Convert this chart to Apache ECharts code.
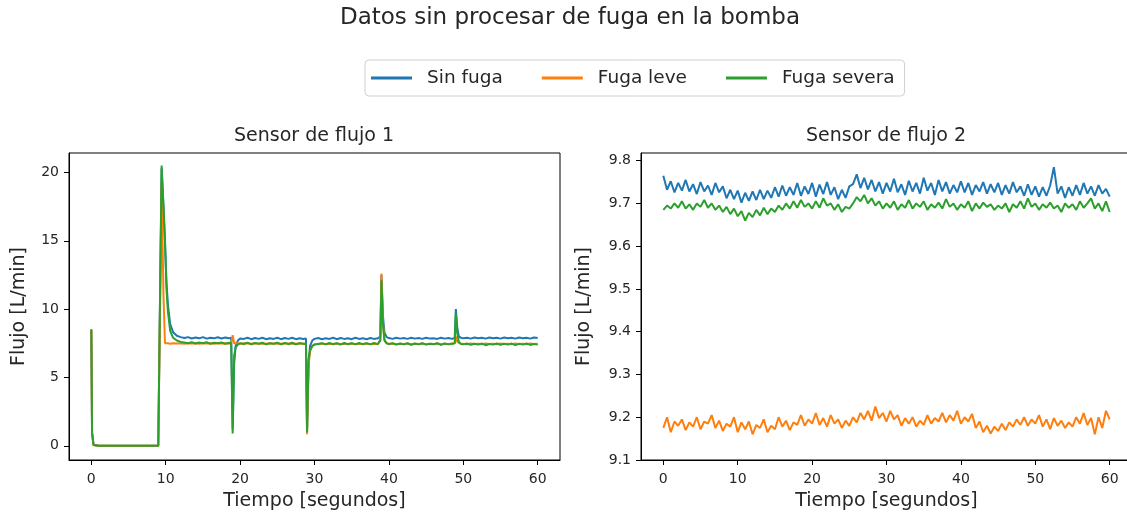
<!DOCTYPE html>
<html>
<head>
<meta charset="utf-8">
<script src="https://cdn.jsdelivr.net/npm/echarts@6/dist/echarts.min.js"></script>
<style>html,body{margin:0;padding:0;background:#fff}#c{width:1127px;height:516px}</style>
</head>
<body>
<div id="c"></div>
<script>
// ---- Data ----
const seriesNames = ['Sin fuga', 'Fuga leve', 'Fuga severa'];
const xTicks = [0, 10, 20, 30, 40, 50, 60];
const yTicksLeft = [0, 5, 10, 15, 20];
const yTicksRight = [9.1, 9.2, 9.3, 9.4, 9.5, 9.6, 9.7, 9.8];

// Sensor de flujo 1 (time in seconds)
const tL = [
  0, 0.1, 0.3, 1, 2, 3, 4, 5, 6, 7, 8, 9, 9.2,
  9.45, 9.7, 9.9, 10.1, 10.3, 10.6, 11, 11.5, 12, 12.5, 13, 13.5, 14, 14.5, 15, 15.5, 16, 16.5, 17, 17.5, 18, 18.5, 18.8,
  19.0, 19.2, 19.4, 19.7, 20, 20.5, 21, 21.5, 22, 22.5, 23, 23.5, 24, 24.5, 25, 25.5, 26, 26.5, 27, 27.5, 28, 28.5, 28.85,
  29.0, 29.2, 29.4, 29.7, 30, 30.5, 31, 31.5, 32, 32.5, 33, 33.5, 34, 34.5, 35, 35.5, 36, 36.5, 37, 37.5, 38, 38.5, 38.85,
  39.0, 39.2, 39.4, 39.7, 40, 40.5, 41, 41.5, 42, 42.5, 43, 43.5, 44, 44.5, 45, 45.5, 46, 46.5, 47, 47.5, 48, 48.5, 48.85,
  49.0, 49.2, 49.4, 49.7, 50, 50.5, 51, 51.5, 52, 52.5, 53, 53.5, 54, 54.5, 55, 55.5, 56, 56.5, 57, 57.5, 58, 58.5, 59, 59.5, 60
];
const sinFuga1 = [
  8.5, 0.9, 0.05, 0, 0, 0, 0, 0, 0, 0, 0, 0, 0,
  20.3, 17.5, 15.0, 12.0, 10.3, 8.9, 8.3, 8.05, 7.95, 7.88, 7.95, 7.85, 7.92, 7.86, 7.95, 7.84, 7.9, 7.86, 7.94, 7.85, 7.92, 7.86, 7.9,
  1.2, 6.0, 7.3, 7.7, 7.85, 7.82, 7.9, 7.8, 7.88, 7.82, 7.9, 7.8, 7.86, 7.82, 7.9, 7.8, 7.88, 7.82, 7.9, 7.8, 7.86, 7.82, 7.85,
  1.2, 6.0, 7.3, 7.7, 7.82, 7.88, 7.8, 7.86, 7.82, 7.9, 7.8, 7.88, 7.82, 7.86, 7.8, 7.9, 7.82, 7.86, 7.8, 7.88, 7.82, 7.86, 8.0,
  12.5, 9.5, 8.3, 7.95, 7.88, 7.82, 7.9, 7.84, 7.88, 7.82, 7.9, 7.84, 7.88, 7.82, 7.9, 7.84, 7.86, 7.82, 7.9, 7.84, 7.88, 7.82, 7.9,
  10.0, 8.6, 8.0, 7.9, 7.86, 7.9, 7.84, 7.92, 7.86, 7.9, 7.84, 7.92, 7.86, 7.9, 7.84, 7.92, 7.86, 7.9, 7.84, 7.92, 7.86, 7.9, 7.84, 7.92, 7.88
];
const fugaLeve1 = [
  8.5, 0.9, 0.05, 0, 0, 0, 0, 0, 0, 0, 0, 0, 0,
  19.2, 11.0, 7.5, 7.48, 7.5, 7.47, 7.5, 7.48, 7.5, 7.47, 7.5, 7.48, 7.5, 7.47, 7.5, 7.48, 7.5, 7.47, 7.5, 7.48, 7.5, 7.47, 7.5,
  8.1, 7.5, 7.48, 7.5, 7.47, 7.5, 7.48, 7.46, 7.5, 7.47, 7.49, 7.46, 7.5, 7.47, 7.49, 7.46, 7.5, 7.47, 7.49, 7.46, 7.5, 7.47, 7.45,
  0.85, 5.8, 6.9, 7.3, 7.42, 7.45, 7.48, 7.44, 7.47, 7.43, 7.48, 7.45, 7.47, 7.43, 7.48, 7.45, 7.47, 7.43, 7.48, 7.45, 7.47, 7.43, 7.8,
  12.6, 9.0, 7.8, 7.5, 7.45, 7.48, 7.43, 7.47, 7.44, 7.48, 7.43, 7.47, 7.44, 7.48, 7.43, 7.47, 7.44, 7.48, 7.43, 7.47, 7.44, 7.48, 7.5,
  8.0, 7.6, 7.48, 7.45, 7.47, 7.43, 7.48, 7.44, 7.47, 7.43, 7.48, 7.44, 7.47, 7.43, 7.48, 7.44, 7.47, 7.43, 7.48, 7.44, 7.47, 7.43, 7.48, 7.44, 7.46
];
const fugaSevera1 = [
  8.5, 1.0, 0.05, 0, 0, 0, 0, 0, 0, 0, 0, 0, 0,
  20.5, 17.5, 15.0, 11.5, 9.8, 8.4, 7.9, 7.7, 7.6, 7.55, 7.5, 7.58, 7.48, 7.55, 7.5, 7.58, 7.46, 7.54, 7.5, 7.56, 7.46, 7.54, 7.5,
  0.9, 6.6, 7.2, 7.4, 7.5, 7.45, 7.55, 7.42, 7.52, 7.46, 7.54, 7.42, 7.5, 7.46, 7.55, 7.42, 7.52, 7.45, 7.54, 7.42, 7.5, 7.46, 7.48,
  1.0, 6.3, 7.0, 7.3, 7.4, 7.45, 7.5, 7.42, 7.52, 7.44, 7.5, 7.4, 7.52, 7.44, 7.5, 7.42, 7.52, 7.44, 7.5, 7.42, 7.52, 7.44, 7.7,
  12.1, 8.9, 7.7, 7.5, 7.44, 7.5, 7.4, 7.48, 7.42, 7.5, 7.38, 7.48, 7.42, 7.5, 7.4, 7.46, 7.42, 7.5, 7.38, 7.48, 7.42, 7.46, 7.5,
  9.7, 8.2, 7.6, 7.45, 7.42, 7.48, 7.38, 7.46, 7.4, 7.48, 7.36, 7.45, 7.4, 7.48, 7.38, 7.46, 7.4, 7.48, 7.36, 7.46, 7.4, 7.48, 7.38, 7.45, 7.4
];

// Sensor de flujo 2 (time in seconds)
const tR = [
  0, 0.5, 1, 1.5, 2, 2.5, 3, 3.5, 4, 4.5,
  5, 5.5, 6, 6.5, 7, 7.5, 8, 8.5, 9, 9.5,
  10, 10.5, 11, 11.5, 12, 12.5, 13, 13.5, 14, 14.5,
  15, 15.5, 16, 16.5, 17, 17.5, 18, 18.5, 19, 19.5,
  20, 20.5, 21, 21.5, 22, 22.5, 23, 23.5, 24, 24.5,
  25, 25.5, 26, 26.5, 27, 27.5, 28, 28.5, 29, 29.5,
  30, 30.5, 31, 31.5, 32, 32.5, 33, 33.5, 34, 34.5,
  35, 35.5, 36, 36.5, 37, 37.5, 38, 38.5, 39, 39.5,
  40, 40.5, 41, 41.5, 42, 42.5, 43, 43.5, 44, 44.5,
  45, 45.5, 46, 46.5, 47, 47.5, 48, 48.5, 49, 49.5,
  50, 50.5, 51, 51.5, 52, 52.5, 53, 53.5, 54, 54.5,
  55, 55.5, 56, 56.5, 57, 57.5, 58, 58.5, 59, 59.5,
  60
];
const sinFuga2 = [
  9.765, 9.732, 9.752, 9.726, 9.748, 9.730, 9.755, 9.728, 9.745, 9.722,
  9.750, 9.728, 9.742, 9.720, 9.748, 9.726, 9.740, 9.712, 9.732, 9.710,
  9.730, 9.702, 9.725, 9.706, 9.728, 9.708, 9.732, 9.710, 9.730, 9.713,
  9.738, 9.716, 9.742, 9.718, 9.738, 9.720, 9.748, 9.718, 9.740, 9.722,
  9.748, 9.716, 9.744, 9.722, 9.750, 9.720, 9.738, 9.710, 9.732, 9.713,
  9.740, 9.745, 9.768, 9.736, 9.760, 9.733, 9.755, 9.728, 9.750, 9.723,
  9.748, 9.728, 9.758, 9.726, 9.745, 9.720, 9.753, 9.728, 9.748, 9.723,
  9.760, 9.730, 9.748, 9.720, 9.755, 9.728, 9.750, 9.723, 9.743, 9.726,
  9.752, 9.726, 9.748, 9.720, 9.743, 9.728, 9.750, 9.723, 9.745, 9.726,
  9.748, 9.720, 9.743, 9.723, 9.750, 9.726, 9.740, 9.718, 9.745, 9.720,
  9.740, 9.716, 9.738, 9.718, 9.742, 9.785, 9.723, 9.740, 9.713, 9.738,
  9.718, 9.743, 9.720, 9.748, 9.723, 9.740, 9.718, 9.743, 9.723, 9.734,
  9.716
];
const fugaLeve2 = [
  9.175, 9.200, 9.165, 9.190, 9.180, 9.195, 9.170, 9.188, 9.178, 9.200,
  9.172, 9.190, 9.185, 9.205, 9.175, 9.192, 9.168, 9.185, 9.178, 9.200,
  9.165, 9.188, 9.172, 9.190, 9.160, 9.182, 9.175, 9.195, 9.165, 9.180,
  9.172, 9.200, 9.178, 9.192, 9.170, 9.188, 9.182, 9.205, 9.180, 9.195,
  9.185, 9.210, 9.182, 9.198, 9.178, 9.205, 9.185, 9.195, 9.175, 9.192,
  9.180, 9.200, 9.188, 9.210, 9.195, 9.215, 9.192, 9.225, 9.198, 9.210,
  9.190, 9.215, 9.195, 9.205, 9.180, 9.198, 9.185, 9.200, 9.178, 9.192,
  9.182, 9.205, 9.185, 9.198, 9.190, 9.210, 9.188, 9.205, 9.192, 9.215,
  9.185, 9.200, 9.190, 9.208, 9.175, 9.190, 9.165, 9.180, 9.162, 9.178,
  9.168, 9.185, 9.170, 9.188, 9.178, 9.195, 9.182, 9.200, 9.180, 9.195,
  9.185, 9.205, 9.178, 9.195, 9.172, 9.198, 9.180, 9.192, 9.175, 9.188,
  9.178, 9.200, 9.185, 9.210, 9.182, 9.198, 9.160, 9.200, 9.175, 9.215,
  9.195
];
const fugaSevera2 = [
  9.685, 9.695, 9.688, 9.700, 9.690, 9.705, 9.688, 9.698, 9.685, 9.700,
  9.692, 9.708, 9.690, 9.700, 9.685, 9.695, 9.680, 9.692, 9.675, 9.688,
  9.670, 9.682, 9.660, 9.678, 9.668, 9.685, 9.672, 9.690, 9.675, 9.688,
  9.680, 9.695, 9.685, 9.700, 9.688, 9.705, 9.690, 9.708, 9.692, 9.700,
  9.688, 9.705, 9.690, 9.712, 9.695, 9.700, 9.685, 9.698, 9.680, 9.692,
  9.688, 9.700, 9.715, 9.705, 9.720, 9.700, 9.712, 9.695, 9.705, 9.688,
  9.700, 9.690, 9.705, 9.685, 9.698, 9.690, 9.708, 9.688, 9.700, 9.692,
  9.705, 9.685, 9.698, 9.690, 9.702, 9.688, 9.710, 9.692, 9.700, 9.685,
  9.698, 9.690, 9.705, 9.682, 9.700, 9.688, 9.702, 9.692, 9.698, 9.685,
  9.695, 9.688, 9.700, 9.680, 9.698, 9.690, 9.705, 9.688, 9.712, 9.692,
  9.700, 9.685, 9.698, 9.690, 9.702, 9.688, 9.695, 9.680, 9.700, 9.690,
  9.698, 9.685, 9.705, 9.690, 9.700, 9.712, 9.688, 9.700, 9.682, 9.705,
  9.680
];

// ---- Chart ----
const colors = ['#1f77b4', '#ff7f0e', '#2ca02c'];
const FONT = 'DejaVu Sans';
const txt = '#262626';
const pairs = (t, v) => t.map((x, i) => [x, v[i]]);

function xAxisFor(gi) {
  return {
    type: 'value', gridIndex: gi, min: -3, max: 63,
    name: 'Tiempo [segundos]', nameLocation: 'middle', nameGap: 32, nameMoveOverlap: false,
    nameTextStyle: { fontFamily: FONT, fontSize: 19, color: txt },
    axisLine: { show: true, onZero: false, lineStyle: { color: '#000', width: 1 } },
    axisTick: { show: true, length: 5, lineStyle: { color: '#000' }, customValues: xTicks },
    axisLabel: { fontFamily: FONT, fontSize: 14, color: txt, margin: 12, customValues: xTicks },
    splitLine: { show: false }
  };
}
function yAxisFor(gi, min, max, ticks, gap) {
  return {
    type: 'value', gridIndex: gi, min: min, max: max,
    name: 'Flujo [L/min]', nameLocation: 'middle', nameGap: gap, nameMoveOverlap: false,
    nameTextStyle: { fontFamily: FONT, fontSize: 19, color: txt },
    axisLine: { show: true, onZero: false, lineStyle: { color: '#000', width: 1 } },
    axisTick: { show: true, length: 5, lineStyle: { color: '#000' }, customValues: ticks },
    axisLabel: { fontFamily: FONT, fontSize: 14, color: txt, margin: 10, customValues: ticks,
                 formatter: v => (gi === 1 ? v.toFixed(1) : String(v)) },
    splitLine: { show: false }
  };
}
function lineSeries(name, gi, data, color) {
  return {
    type: 'line', name: name, xAxisIndex: gi, yAxisIndex: gi, data: data,
    showSymbol: false, symbol: 'none', animation: false,
    lineStyle: { color: color, width: 2 }, itemStyle: { color: color }
  };
}

const chart = echarts.init(document.getElementById('c'), null, { renderer: 'canvas' });
chart.setOption({
  backgroundColor: '#fff',
  animation: false,
  graphic: [
    { type: 'text', x: 570, y: 18, style: { text: 'Datos sin procesar de fuga en la bomba', fontFamily: FONT, fontSize: 23, fill: txt, align: 'center', verticalAlign: 'middle' } },
    { type: 'text', x: 314, y: 136, style: { text: 'Sensor de flujo 1', fontFamily: FONT, fontSize: 19, fill: txt, align: 'center', verticalAlign: 'middle' } },
    { type: 'text', x: 886, y: 136, style: { text: 'Sensor de flujo 2', fontFamily: FONT, fontSize: 19, fill: txt, align: 'center', verticalAlign: 'middle' } }
  ],
  legend: {
    data: seriesNames, left: 365, top: 60,
    orient: 'horizontal', icon: 'rect', itemWidth: 41, itemHeight: 3, itemGap: 39,
    padding: [8, 10, 8, 6],
    borderColor: '#d0d0d0', borderWidth: 1, borderRadius: 4,
    textStyle: { fontFamily: FONT, fontSize: 18.5, color: txt, padding: [0, 0, 0, 10], lineHeight: 20 }
  },
  grid: [
    { left: 69, top: 153, width: 491, height: 307, show: true, borderColor: '#000', borderWidth: 1, backgroundColor: 'transparent', containLabel: false, outerBoundsMode: 'none' },
    { left: 641, top: 153, width: 491, height: 307, show: true, borderColor: '#000', borderWidth: 1, backgroundColor: 'transparent', containLabel: false, outerBoundsMode: 'none' }
  ],
  xAxis: [xAxisFor(0), xAxisFor(1)],
  yAxis: [
    yAxisFor(0, -1.04, 21.42, yTicksLeft, 40),
    yAxisFor(1, 9.1, 9.818, yTicksRight, 47)
  ],
  series: [
    lineSeries(seriesNames[0], 0, pairs(tL, sinFuga1), colors[0]),
    lineSeries(seriesNames[1], 0, pairs(tL, fugaLeve1), colors[1]),
    lineSeries(seriesNames[2], 0, pairs(tL, fugaSevera1), colors[2]),
    lineSeries(seriesNames[0], 1, pairs(tR, sinFuga2), colors[0]),
    lineSeries(seriesNames[1], 1, pairs(tR, fugaLeve2), colors[1]),
    lineSeries(seriesNames[2], 1, pairs(tR, fugaSevera2), colors[2])
  ]
});
</script>
</body>
</html>
